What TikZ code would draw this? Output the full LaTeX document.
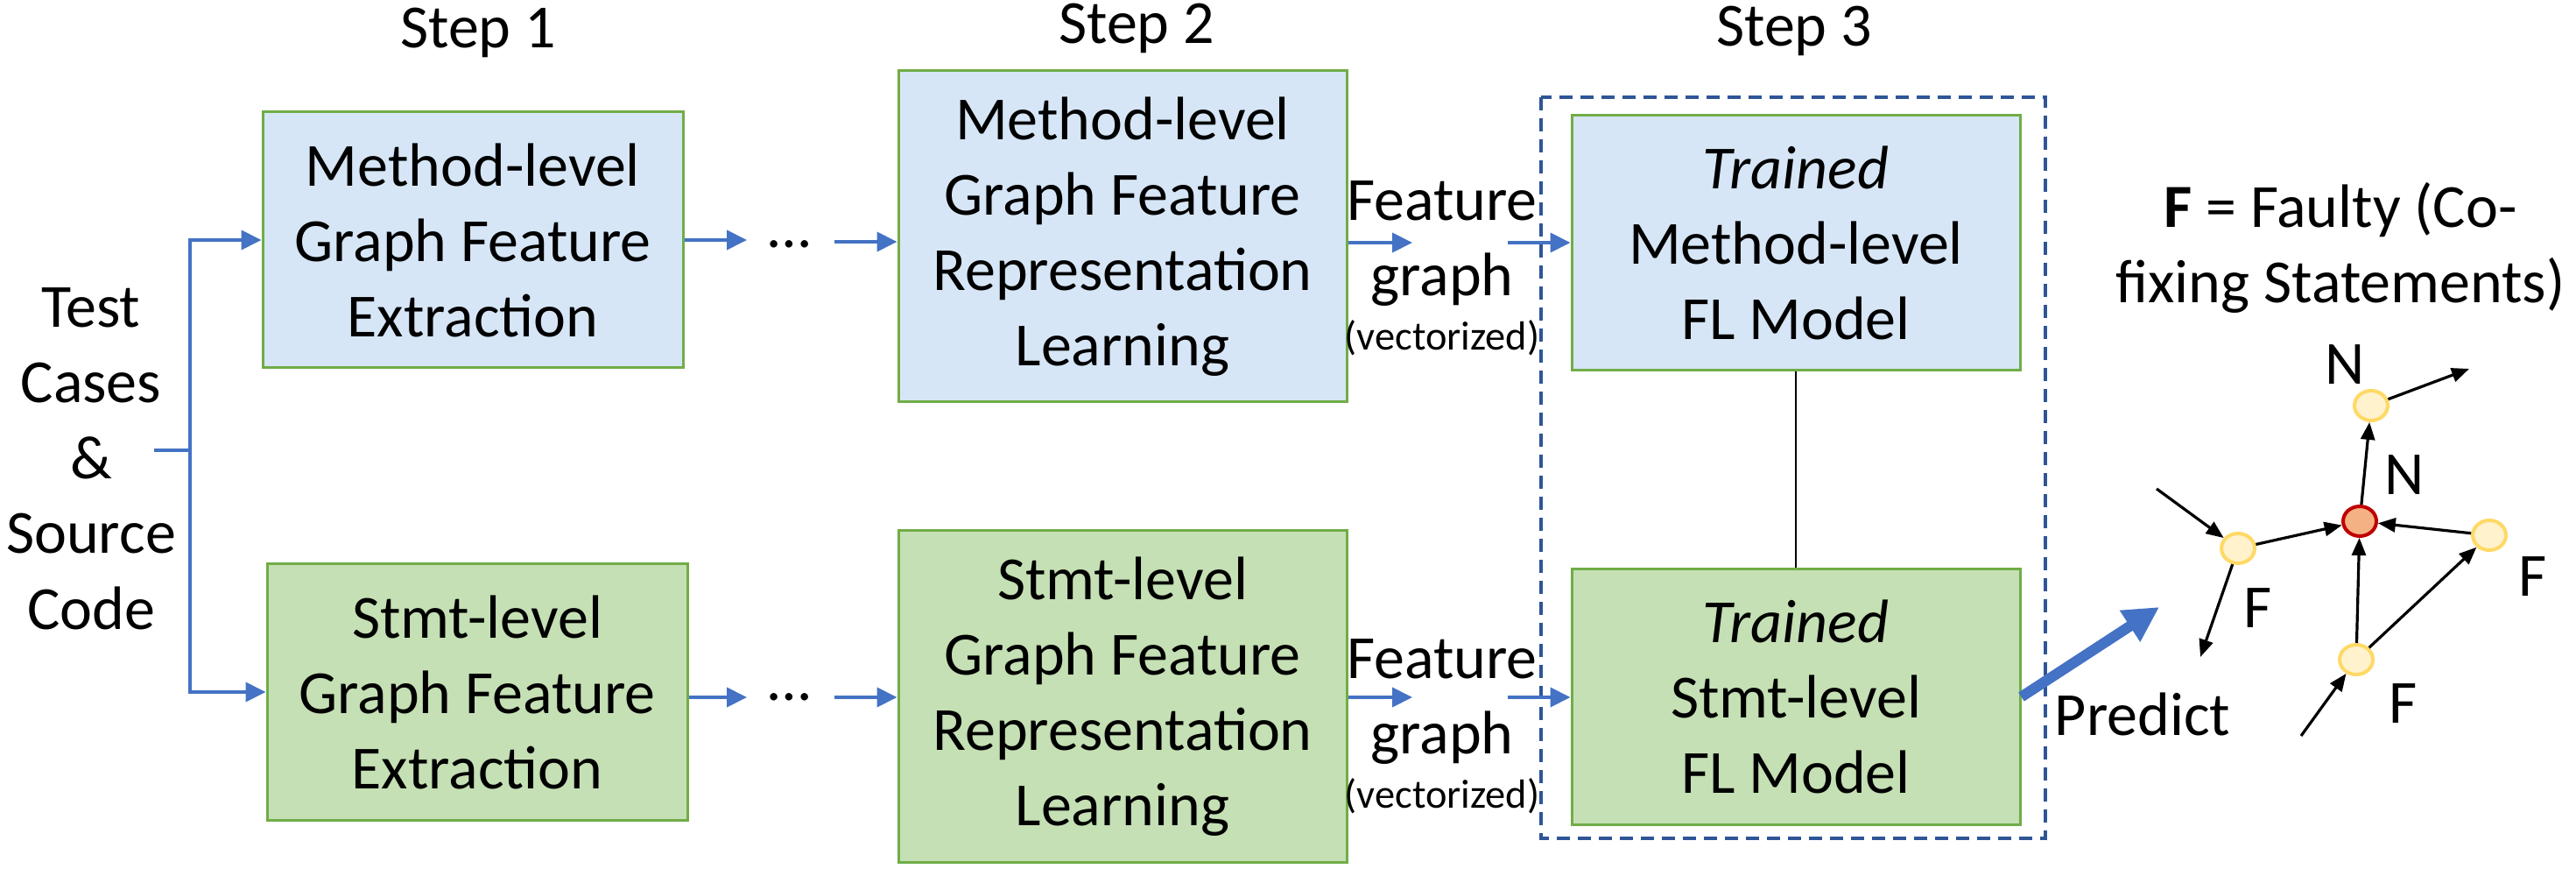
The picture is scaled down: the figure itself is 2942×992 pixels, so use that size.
\documentclass[tikz,border=0pt]{standalone}
\usepackage{fontspec}
\setmainfont{Carlito}
\usetikzlibrary{arrows.meta,shapes.geometric}
\definecolor{mblue}{RGB}{214,230,246}
\definecolor{sgreen}{RGB}{197,224,180}
\definecolor{bgreen}{RGB}{112,173,71}
\definecolor{ablue}{RGB}{68,114,196}
\definecolor{dblue}{RGB}{47,85,151}
\definecolor{nfill}{RGB}{255,242,204}
\definecolor{nborder}{RGB}{255,217,102}
\definecolor{rfill}{RGB}{244,177,131}
\definecolor{rborder}{RGB}{192,0,0}
\tikzset{
  basebox/.style={draw=bgreen, line width=0.75pt, align=center, inner sep=0pt},
  mbox/.style={basebox, fill=mblue},
  sbox/.style={basebox, fill=sgreen},
  small/.style={minimum width=120pt, minimum height=73pt},
  big/.style={minimum width=128pt, minimum height=94.5pt},
  model/.style={minimum width=128pt, minimum height=72.75pt},
  barrow/.style={draw=ablue, line width=1pt, -{Triangle[length=5.75pt,width=5.5pt]}},
  bline/.style={draw=ablue, line width=1pt},
  parrow/.style={draw=ablue, line width=3pt, -{Triangle[length=10pt,width=10pt]}},
  garrow/.style={draw=black, line width=0.8pt, -{Triangle[length=5pt,width=4pt]}},
  gnode/.style={ellipse, draw=nborder, fill=nfill, line width=1pt, minimum width=9.5pt, minimum height=8.5pt, inner sep=0pt},
  rnode/.style={gnode, draw=rborder, fill=rfill},
  dashbox/.style={draw=dblue, line width=1pt, dash pattern=on 3.75pt off 2.25pt},
  lbl/.style={inner sep=0pt, anchor=base},
}
\begin{document}
\begin{tikzpicture}[x=0.25pt, y=-0.25pt, font=\fontsize{17.5}{21.5}\selectfont]
\useasboundingbox (0,0) rectangle (2942,992);

% step labels
\node[lbl] (s1) at (546,55) {Step 1};
\node[lbl] (s2) at (1298,50) {Step 2};
\node[lbl] (s3) at (2049,53) {Step 3};

% input text (base = last line)
\node[lbl, align=center] (input) at (104,718) {Test\\Cases\\\&\\Source\\Code};

% boxes
\node[mbox, small] (b1) at (540,274) {Method-level\\Graph Feature\\Extraction};
\node[sbox, small] (b4) at (545,790) {Stmt-level\\Graph Feature\\Extraction};
\node[mbox, big] (b2) at (1282,270) {Method-level\\Graph Feature\\Representation\\Learning};
\node[sbox, big] (b5) at (1282,795) {Stmt-level\\Graph Feature\\Representation\\Learning};
\draw[dashbox] (1760,111) rectangle (2336,957);
\node[mbox, model] (b3) at (2051,277.5) {\textit{Trained}\\Method-level\\FL Model};
\node[sbox, model] (b6) at (2051,795.5) {\textit{Trained}\\Stmt-level\\FL Model};

% input branching
\coordinate (tc) at (176,514);
\coordinate (j) at (217,514);
\draw[bline] (tc) -- (j);
\draw[barrow] (j) |- (b1.west);
\draw[barrow] (j) |- (b4.west);

% top row
\coordinate (d1a) at (853,274);
\draw[barrow] (b1.east) -- (d1a);
\node[lbl] (dots1) at (902,283) {…};
\coordinate (d1b) at (953,276);
\draw[barrow] (d1b) -- (d1b -| b2.west);
\coordinate (fa) at (1613,277);
\draw[barrow] (fa -| b2.east) -- (fa);
\node[lbl, align=center] (fg1) at (1647,400) {Feature\\graph\\[-6pt]{\fontsize{11.6}{14}\selectfont (vectorized)}};
\coordinate (fb) at (1722,277);
\draw[barrow] (fb) -- (fb -| b3.west);

% bottom row
\coordinate (d4a) at (853,796);
\draw[barrow] (d4a -| b4.east) -- (d4a);
\node[lbl] (dots2) at (902,800) {…};
\coordinate (d4b) at (953,796);
\draw[barrow] (d4b) -- (d4b -| b5.west);
\coordinate (fc) at (1613,796);
\draw[barrow] (fc -| b5.east) -- (fc);
\node[lbl, align=center] (fg2) at (1647,922) {Feature\\graph\\[-6pt]{\fontsize{11.6}{14}\selectfont (vectorized)}};
\coordinate (fd) at (1722,796);
\draw[barrow] (fd) -- (fd -| b6.west);

% link between models
\draw[black, line width=0.5pt] (b3.south) -- (b6.north);

% predict
\coordinate (pe) at (2466,693);
\draw[parrow] (b6.east) -- (pe);
\node[lbl] (pred) at (2447,839) {Predict};

% legend
\node[lbl, align=center] (legend) at (2673,346) {\textbf{F} = Faulty (Co-\\fixing Statements)};

% graph
\node[gnode] (nt) at (2708,463) {};
\node[rnode] (nr) at (2695,595) {};
\node[gnode] (nl) at (2556,626) {};
\node[gnode] (nR) at (2843,611) {};
\node[gnode] (nb) at (2691,753) {};
\coordinate (in1) at (2463,558);
\coordinate (out1) at (2513,750);
\coordinate (out2) at (2820,421);
\coordinate (in2) at (2628,840);
\draw[garrow] (in1) -- (nl);
\draw[garrow] (nl) -- (nr);
\draw[garrow] (nl) -- (out1);
\draw[garrow] (nt) -- (out2);
\draw[garrow] (nr) -- (nt);
\draw[garrow] (nR) -- (nr);
\draw[garrow] (nb) -- (nr);
\draw[garrow] (nb) -- (nR);
\draw[garrow] (in2) -- (nb);

\node[lbl] (lnt) at (2678,439) {N};
\node[lbl] (lnr) at (2746,565) {N};
\node[lbl] (lnl) at (2579,716) {F};
\node[lbl] (lnR) at (2893,681) {F};
\node[lbl] (lnb) at (2745,825) {F};
\end{tikzpicture}
\end{document}
